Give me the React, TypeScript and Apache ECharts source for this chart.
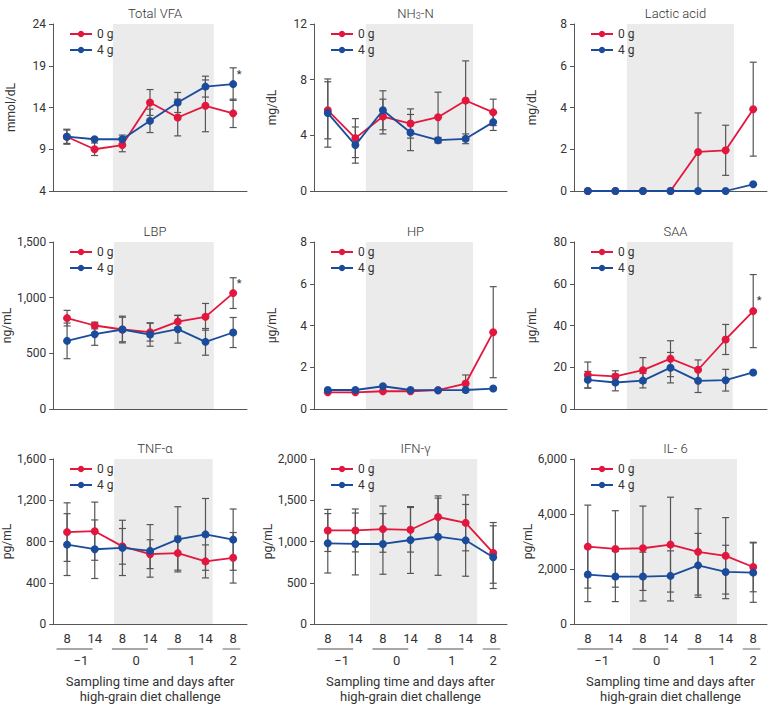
import React, { useEffect, useRef } from 'react';
import * as echarts from 'echarts';

// ---------- data ----------
const categories = ['8', '14', '8', '14', '8', '14', '8'];
const groupStart = [0, 2, 4, 6];
const groupEnd = [1, 3, 5, 6];
const groupLabels = ['−1', '0', '1', '2'];

const titles = ['Total VFA', 'NH3-N', 'Lactic acid', 'LBP', 'HP', 'SAA', 'TNF-α', 'IFN-γ', 'IL- 6'];
const units = ['mmol/dL', 'mg/dL', 'mg/dL', 'ng/mL', 'µg/mL', 'µg/mL', 'pg/mL', 'pg/mL', 'pg/mL'];
const yMin = [4, 0, 0, 0, 0, 0, 0, 0, 0];
const yMax = [24, 12, 8, 1500, 8, 80, 1600, 2000, 6000];
const yInterval = [5, 4, 2, 500, 2, 20, 400, 500, 2000];

const vfaRed = [10.5, 9.0, 9.5, 14.6, 12.8, 14.2, 13.3];
const vfaRedErr = [0.9, 0.75, 0.8, 1.55, 2.2, 3.1, 1.7];
const vfaBlue = [10.5, 10.2, 10.2, 12.4, 14.6, 16.5, 16.8];
const vfaBlueErr = [0.8, 0.15, 0.5, 1.4, 1.2, 1.25, 1.95];

const nh3Red = [5.8, 3.8, 5.35, 4.85, 5.3, 6.5, 5.65];
const nh3RedErr = [2.05, 1.4, 1.25, 1.05, 1.8, 2.85, 0.95];
const nh3Blue = [5.6, 3.3, 5.8, 4.2, 3.65, 3.75, 4.95];
const nh3BlueErr = [2.45, 1.3, 1.4, 1.3, 0.2, 0.35, 0.6];

const lacRed = [0, 0, 0, 0, 1.87, 1.95, 3.92];
const lacRedErr = [0, 0, 0, 0, 1.87, 1.2, 2.25];
const lacBlue = [0, 0, 0, 0, 0, 0, 0.32];
const lacBlueErr = [0, 0, 0, 0, 0, 0, 0];

const lbpRed = [816, 750, 714, 690, 785, 828, 1041];
const lbpRedErr = [70, 30, 110, 80, 55, 120, 138];
const lbpBlue = [612, 672, 714, 669, 717, 603, 687];
const lbpBlueErr = [160, 100, 120, 105, 125, 120, 135];

const hpRed = [0.8, 0.8, 0.85, 0.85, 0.9, 1.22, 3.68];
const hpRedErr = [0, 0, 0, 0, 0, 0.41, 2.18];
const hpBlue = [0.91, 0.91, 1.09, 0.91, 0.9, 0.91, 0.98];
const hpBlueErr = [0, 0, 0, 0, 0, 0, 0];

const saaRed = [16.3, 15.6, 18.6, 24.1, 18.8, 33.3, 46.9];
const saaRedErr = [6.2, 2.7, 6.0, 8.6, 4.7, 7.2, 17.5];
const saaBlue = [14.0, 12.7, 13.6, 19.8, 13.5, 13.8, 17.5];
const saaBlueErr = [4.0, 4.0, 3.5, 7.3, 5.6, 5.2, 0];

const tnfRed = [891, 900, 753, 677, 687, 607, 642];
const tnfRedErr = [284, 282, 173, 140, 165, 160, 245];
const tnfBlue = [770, 725, 738, 709, 821, 869, 818];
const tnfBlueErr = [300, 284, 268, 255, 316, 348, 297];

const ifnRed = [1134, 1134, 1150, 1142, 1297, 1226, 862];
const ifnRedErr = [255, 260, 280, 270, 256, 339, 368];
const ifnBlue = [978, 970, 970, 1018, 1058, 1014, 810];
const ifnBlueErr = [360, 375, 367, 405, 468, 435, 380];

const il6Red = [2814, 2730, 2754, 2886, 2623, 2479, 2072];
const il6RedErr = [1509, 1390, 1534, 1725, 1569, 1390, 900];
const il6Blue = [1797, 1725, 1725, 1749, 2132, 1892, 1868];
const il6BlueErr = [983, 911, 887, 911, 1162, 971, 1080];

const redData = [vfaRed, nh3Red, lacRed, lbpRed, hpRed, saaRed, tnfRed, ifnRed, il6Red];
const redErr = [vfaRedErr, nh3RedErr, lacRedErr, lbpRedErr, hpRedErr, saaRedErr, tnfRedErr, ifnRedErr, il6RedErr];
const blueData = [vfaBlue, nh3Blue, lacBlue, lbpBlue, hpBlue, saaBlue, tnfBlue, ifnBlue, il6Blue];
const blueErr = [vfaBlueErr, nh3BlueErr, lacBlueErr, lbpBlueErr, hpBlueErr, saaBlueErr, tnfBlueErr, ifnBlueErr, il6BlueErr];

// significance marks: panel, category index, value position
const sigPanel = [0, 3, 5];
const sigIndex = [6, 6, 6];
const sigValue = [18.0, 1131, 52];

// ---------- layout ----------
const colLeft = [53, 314, 574];
const colWidth = [194, 193, 193];
const rowTop = [24, 242, 459];
const gridH = 167;
// shaded challenge period (in category-index units from first category centre)
const shadeStart = [1.66, 1.38, 1.42, 1.7, 1.38, 1.42, 1.7, 1.53, 1.53];
const shadeEnd = [5.3, 5.27, 5.3, 5.3, 5.27, 5.26, 5.26, 5.42, 5.41];

const RED = '#e3173e';
const BLUE = '#1b4c9c';
const AXIS = '#555555';
const ERR = '#555555';
const SHADE = '#ebebeb';
const TXT = '#333333';
const FONT = 'Roboto, "Noto Sans", sans-serif';

const fmt = (v: number) => v.toLocaleString('en-US');

function buildOption() {
  const grid: any[] = [];
  const xAxis: any[] = [];
  const yAxis: any[] = [];
  const series: any[] = [];
  const title: any[] = [];
  const legend: any[] = [];

  const titleRich = {
    a: { fontSize: 13, fontWeight: 300, color: '#333', fontFamily: FONT, lineHeight: 16 },
    b: { fontSize: 9, fontWeight: 300, color: '#333', fontFamily: FONT, lineHeight: 16, padding: [6, 0, 0, 0] },
  };

  for (let p = 0; p < 9; p++) {
    const r = Math.floor(p / 3);
    const c = p % 3;
    const left = colLeft[c];
    const top = rowTop[r];
    const width = colWidth[c];
    grid.push({ left, top, width, height: gridH, containLabel: false });

    const isNH3 = p === 1;
    title.push({
      text: isNH3 ? '{a|NH}{b|3}{a|-N}' : '{a|' + titles[p] + '}',
      left: left + width / 2,
      top: top - 24,
      textAlign: 'center',
      textStyle: {
        fontSize: 13,
        fontWeight: 300,
        color: '#333',
        fontFamily: FONT,
        rich: titleRich,
      },
    });

    legend.push({
      data: ['0 g', '4 g'],
      orient: 'vertical',
      left: left + 11,
      top: top - 1,
      itemWidth: 22,
      itemHeight: 8,
      itemGap: 4,
      textStyle: { fontSize: 12, color: TXT, fontFamily: FONT },
      selectedMode: false,
    });

    xAxis.push({
      type: 'category',
      gridIndex: p,
      data: categories,
      boundaryGap: true,
      axisLine: { lineStyle: { color: AXIS, width: 1 } },
      axisTick: { alignWithLabel: true, length: 5, lineStyle: { color: AXIS } },
      axisLabel: { show: r === 2, fontSize: 13, color: TXT, margin: 8, fontFamily: FONT },
      name: r === 2 ? 'Sampling time and days after\nhigh-grain diet challenge' : '',
      nameLocation: 'middle',
      nameGap: 50,
      nameTextStyle: { fontSize: 13, lineHeight: 15, color: TXT, fontFamily: FONT },
      splitLine: { show: false },
    });

    yAxis.push({
      type: 'value',
      gridIndex: p,
      min: yMin[p],
      max: yMax[p],
      interval: yInterval[p],
      splitLine: { show: false },
      axisLine: { show: true, lineStyle: { color: AXIS, width: 1 } },
      axisTick: { show: true, length: 4, lineStyle: { color: AXIS } },
      axisLabel: { fontSize: 12, color: TXT, margin: 7, fontFamily: FONT, formatter: (v: number) => fmt(v) },
      name: units[p],
      nameLocation: 'middle',
      nameRotate: 90,
      nameGap: 36,
      nameTextStyle: { fontSize: 12, color: TXT, fontFamily: FONT },
    });

    // shaded period
    series.push({
      type: 'custom',
      name: 'shade' + p,
      xAxisIndex: p,
      yAxisIndex: p,
      silent: true,
      z: 0,
      data: [[0, yMin[p], shadeStart[p], shadeEnd[p], yMax[p]]],
      encode: { x: 0, y: 1 },
      renderItem: (params: any, api: any) => {
        const band = api.size([1, 0])[0];
        const base = api.coord([0, api.value(1)]);
        const topPt = api.coord([0, api.value(4)]);
        const x1 = base[0] + api.value(2) * band;
        const x2 = base[0] + api.value(3) * band;
        return {
          type: 'rect',
          shape: { x: x1, y: topPt[1], width: x2 - x1, height: base[1] - topPt[1] },
          style: { fill: SHADE },
        };
      },
    });

    const errSeries = (means: number[], errs: number[], name: string) => {
      const d: number[][] = [];
      means.forEach((m, i) => {
        if (errs[i] > 0) d.push([i, m - errs[i], m + errs[i]]);
      });
      return {
        type: 'custom',
        name,
        xAxisIndex: p,
        yAxisIndex: p,
        silent: true,
        z: 1,
        data: d,
        encode: { x: 0, y: [1, 2] },
        renderItem: (params: any, api: any) => {
          const x = api.value(0);
          const lo = api.coord([x, api.value(1)]);
          const hi = api.coord([x, api.value(2)]);
          const w = 3.5;
          const st = { stroke: ERR, lineWidth: 1.2 };
          return {
            type: 'group',
            children: [
              { type: 'line', shape: { x1: lo[0], y1: lo[1], x2: hi[0], y2: hi[1] }, style: st },
              { type: 'line', shape: { x1: lo[0] - w, y1: lo[1], x2: lo[0] + w, y2: lo[1] }, style: st },
              { type: 'line', shape: { x1: hi[0] - w, y1: hi[1], x2: hi[0] + w, y2: hi[1] }, style: st },
            ],
          };
        },
      };
    };
    series.push(errSeries(redData[p], redErr[p], 'errRed' + p));
    series.push(errSeries(blueData[p], blueErr[p], 'errBlue' + p));

    series.push({
      type: 'line',
      name: '0 g',
      xAxisIndex: p,
      yAxisIndex: p,
      data: redData[p],
      symbol: 'circle',
      symbolSize: 8,
      lineStyle: { color: RED, width: 1.8 },
      itemStyle: { color: RED },
      clip: false,
      z: 3,
    });
    series.push({
      type: 'line',
      name: '4 g',
      xAxisIndex: p,
      yAxisIndex: p,
      data: blueData[p],
      symbol: 'circle',
      symbolSize: 8,
      lineStyle: { color: BLUE, width: 1.8 },
      itemStyle: { color: BLUE },
      clip: false,
      z: 4,
    });

    const si = sigPanel.indexOf(p);
    if (si >= 0) {
      series.push({
        type: 'custom',
        name: 'sig' + p,
        xAxisIndex: p,
        yAxisIndex: p,
        silent: true,
        z: 5,
        data: [[sigIndex[si], sigValue[si]]],
        encode: { x: 0, y: 1 },
        renderItem: (params: any, api: any) => {
          const pt = api.coord([api.value(0), api.value(1)]);
          return {
            type: 'text',
            x: pt[0] + 6,
            y: pt[1],
            style: { text: '*', fill: '#333', fontSize: 11, fontFamily: FONT, textAlign: 'center', textVerticalAlign: 'middle' },
          };
        },
      });
    }

    if (r === 2) {
      const gd = groupStart.map((s, i) => [s, yMin[p], groupEnd[i], i]);
      series.push({
        type: 'custom',
        name: 'groups' + p,
        xAxisIndex: p,
        yAxisIndex: p,
        silent: true,
        data: gd,
        encode: { x: 0, y: 1 },
        renderItem: (params: any, api: any) => {
          const band = api.size([1, 0])[0];
          const s = api.value(0);
          const e = api.value(2);
          const p1 = api.coord([s, api.value(1)]);
          const p2 = api.coord([e, api.value(1)]);
          const single = s === e;
          const x1 = p1[0] - 0.38 * band;
          const x2 = single ? p2[0] + 0.26 * band : p2[0] - 0.08 * band;
          const y = p1[1] + 25;
          return {
            type: 'group',
            children: [
              { type: 'line', shape: { x1, y1: y, x2, y2: y }, style: { stroke: '#8a8a8a', lineWidth: 1.3 } },
              {
                type: 'text',
                x: (p1[0] + p2[0]) / 2,
                y: y + 11,
                style: {
                  text: groupLabels[api.value(3)],
                  fill: TXT,
                  fontSize: 13,
                  fontFamily: FONT,
                  textAlign: 'center',
                  textVerticalAlign: 'middle',
                },
              },
            ],
          };
        },
      });
    }
  }

  return {
    animation: false,
    backgroundColor: '#ffffff',
    textStyle: { fontFamily: FONT },
    title,
    legend,
    grid,
    xAxis,
    yAxis,
    series,
  };
}

export default function App() {
  const ref = useRef<HTMLDivElement>(null);
  useEffect(() => {
    if (!ref.current) return;
    const chart = echarts.init(ref.current, undefined, { renderer: 'svg' });
    chart.setOption(buildOption() as any);
    return () => chart.dispose();
  }, []);
  return (
    <div
      ref={ref}
      style={{ position: 'absolute', left: 0, top: 0, width: 769, height: 705, background: '#fff' }}
    />
  );
}
